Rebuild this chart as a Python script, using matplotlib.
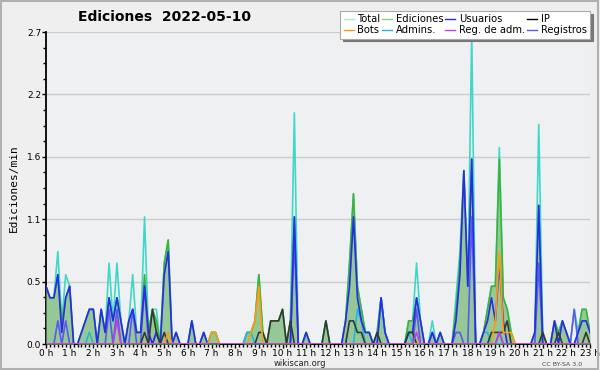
import matplotlib
matplotlib.use("Agg")
import matplotlib.pyplot as plt
from matplotlib.lines import Line2D
from matplotlib.patches import Rectangle
import numpy as np

# 10-minute bins from 00:00 to 23:00 (values are edits per minute)
total = [0.5, 0.4, 0.4, 0.8, 0.2, 0.6,
         0.5, 0, 0, 0.1, 0.2, 0.3,
         0.3, 0, 0.3, 0.1, 0.7, 0.2,
         0.7, 0.2, 0, 0.2, 0.6, 0.1,
         0.1, 1.1, 0.1, 0.3, 0.3, 0,
         0.7, 0.9, 0, 0.1, 0, 0,
         0, 0.2, 0, 0, 0.1, 0,
         0.1, 0.1, 0, 0, 0, 0,
         0, 0, 0, 0.1, 0.1, 0.2,
         0.6, 0.1, 0, 0.2, 0.2, 0.2,
         0.3, 0, 0.2, 2.0, 0, 0,
         0.1, 0, 0, 0, 0, 0.2,
         0, 0, 0, 0, 0.2, 0.7,
         1.3, 0.5, 0.3, 0.1, 0.1, 0,
         0.1, 0.4, 0.1, 0, 0, 0,
         0, 0, 0.2, 0.2, 0.7, 0.2,
         0, 0, 0.2, 0, 0.1, 0,
         0, 0, 0.4, 0.8, 1.5, 0.5,
         2.7, 0, 0, 0.1, 0.3, 0.5,
         0.5, 1.7, 0.4, 0.3, 0.1, 0,
         0, 0, 0, 0, 0.1, 1.9,
         0.1, 0, 0, 0.2, 0.1, 0.2,
         0.1, 0, 0.3, 0.1, 0.3, 0.3,
         0.1]

ediciones = [0.5, 0.4, 0.4, 0.6, 0.2, 0.4,
             0.5, 0, 0, 0.1, 0.2, 0.3,
             0.3, 0, 0.3, 0.1, 0.4, 0.2,
             0.4, 0.2, 0, 0.2, 0.3, 0.1,
             0.1, 0.6, 0.1, 0.3, 0.2, 0,
             0.7, 0.9, 0, 0.1, 0, 0,
             0, 0.2, 0, 0, 0.1, 0,
             0.1, 0.1, 0, 0, 0, 0,
             0, 0, 0, 0.1, 0.1, 0.2,
             0.6, 0.1, 0, 0.2, 0.2, 0.2,
             0.3, 0, 0.2, 1.1, 0, 0,
             0.1, 0, 0, 0, 0, 0.2,
             0, 0, 0, 0, 0.2, 0.7,
             1.3, 0.5, 0.3, 0.1, 0.1, 0,
             0.1, 0.4, 0.1, 0, 0, 0,
             0, 0, 0.2, 0.2, 0.4, 0.2,
             0, 0, 0.1, 0, 0.1, 0,
             0, 0, 0.3, 0.7, 1.5, 0.5,
             1.6, 0, 0, 0.1, 0.3, 0.5,
             0.5, 1.6, 0.4, 0.3, 0.1, 0,
             0, 0, 0, 0, 0.1, 1.2,
             0.1, 0, 0, 0.2, 0.1, 0.2,
             0.1, 0, 0, 0.1, 0.3, 0.3,
             0.1]

usuarios = [0.5, 0.4, 0.4, 0.6, 0.1, 0.4,
            0.5, 0, 0, 0.1, 0.2, 0.3,
            0.3, 0, 0.3, 0.1, 0.4, 0.2,
            0.4, 0.2, 0, 0.2, 0.3, 0.1,
            0.1, 0.5, 0.1, 0, 0.1, 0,
            0.6, 0.8, 0, 0.1, 0, 0,
            0, 0.2, 0, 0, 0.1, 0,
            0, 0, 0, 0, 0, 0,
            0, 0, 0, 0, 0, 0,
            0, 0, 0, 0, 0, 0,
            0, 0, 0, 1.1, 0, 0,
            0.1, 0, 0, 0, 0, 0,
            0, 0, 0, 0, 0.2, 0.5,
            1.1, 0.4, 0.2, 0.1, 0.1, 0,
            0, 0.4, 0.1, 0, 0, 0,
            0, 0, 0.1, 0.1, 0.4, 0.2,
            0, 0, 0.1, 0, 0.1, 0,
            0, 0, 0.2, 0.6, 1.5, 0.5,
            1.6, 0, 0, 0.1, 0.2, 0.4,
            0.2, 0.7, 0.2, 0, 0, 0,
            0, 0, 0, 0, 0.1, 1.2,
            0, 0, 0, 0.2, 0, 0.2,
            0.1, 0, 0, 0.1, 0.2, 0.2,
            0.1]

ip = [0, 0, 0, 0, 0, 0,
      0, 0, 0, 0, 0, 0,
      0, 0, 0, 0, 0, 0,
      0, 0, 0, 0, 0, 0,
      0, 0.1, 0, 0.3, 0.1, 0,
      0.1, 0, 0, 0, 0, 0,
      0, 0, 0, 0, 0, 0,
      0, 0, 0, 0, 0, 0,
      0, 0, 0, 0, 0, 0,
      0.1, 0.1, 0, 0.2, 0.2, 0.2,
      0.3, 0, 0.2, 0, 0, 0,
      0, 0, 0, 0, 0, 0.2,
      0, 0, 0, 0, 0, 0.2,
      0.2, 0.1, 0.1, 0, 0, 0,
      0.1, 0, 0, 0, 0, 0,
      0, 0, 0.1, 0.1, 0, 0,
      0, 0, 0, 0, 0, 0,
      0, 0, 0, 0, 0, 0,
      0, 0, 0, 0, 0, 0.1,
      0.1, 0.1, 0.1, 0.2, 0, 0,
      0, 0, 0, 0, 0, 0,
      0.1, 0, 0, 0, 0.1, 0,
      0, 0, 0, 0, 0, 0.1,
      0]

bots = [0, 0, 0, 0, 0, 0,
        0, 0, 0, 0, 0, 0,
        0, 0, 0, 0, 0, 0,
        0, 0, 0, 0, 0, 0,
        0, 0, 0, 0, 0, 0,
        0, 0.1, 0, 0, 0, 0,
        0, 0, 0, 0, 0, 0,
        0.1, 0.1, 0, 0, 0, 0,
        0, 0, 0, 0, 0.1, 0.2,
        0.5, 0, 0, 0, 0, 0,
        0, 0, 0, 0, 0, 0,
        0, 0, 0, 0, 0, 0,
        0, 0, 0, 0, 0, 0,
        0, 0, 0, 0, 0, 0,
        0, 0, 0, 0, 0, 0,
        0, 0, 0, 0, 0, 0,
        0, 0, 0, 0, 0, 0,
        0, 0, 0, 0, 0, 0,
        0, 0, 0, 0, 0, 0,
        0.2, 0.8, 0.1, 0.1, 0.1, 0,
        0, 0, 0, 0, 0, 0,
        0, 0, 0, 0, 0, 0,
        0, 0, 0, 0, 0, 0,
        0]

admins = [0, 0, 0, 0, 0, 0,
          0, 0, 0, 0, 0, 0.1,
          0, 0, 0, 0, 0, 0,
          0, 0, 0, 0, 0, 0,
          0, 0, 0, 0, 0, 0,
          0, 0, 0, 0, 0, 0,
          0, 0, 0, 0, 0, 0,
          0, 0, 0, 0, 0, 0,
          0, 0, 0, 0.1, 0.1, 0,
          0, 0, 0, 0, 0, 0,
          0, 0, 0, 0, 0, 0,
          0, 0, 0, 0, 0, 0,
          0, 0, 0, 0, 0, 0,
          0, 0.3, 0.2, 0, 0, 0,
          0, 0.4, 0.1, 0, 0, 0,
          0, 0, 0.1, 0, 0, 0,
          0, 0, 0, 0, 0, 0,
          0, 0, 0, 0, 0, 0,
          0, 0, 0, 0.1, 0.1, 0,
          0, 0, 0, 0, 0, 0,
          0, 0, 0, 0, 0, 0,
          0, 0, 0, 0, 0, 0,
          0, 0, 0, 0, 0, 0,
          0]

reg_adm = [0, 0, 0, 0, 0, 0,
           0, 0, 0, 0, 0, 0,
           0, 0, 0, 0, 0, 0,
           0.2, 0, 0, 0, 0, 0,
           0, 0, 0, 0, 0, 0,
           0, 0, 0, 0, 0, 0,
           0, 0, 0, 0, 0, 0,
           0, 0, 0, 0, 0, 0,
           0, 0, 0, 0, 0, 0,
           0, 0, 0, 0, 0, 0,
           0, 0, 0, 0, 0, 0,
           0, 0, 0, 0, 0, 0,
           0, 0, 0, 0, 0, 0,
           0, 0, 0, 0, 0, 0,
           0, 0, 0, 0, 0, 0,
           0, 0, 0, 0, 0.1, 0,
           0, 0, 0, 0, 0, 0,
           0, 0, 0, 0, 0, 0,
           0, 0, 0, 0, 0, 0,
           0, 0.1, 0, 0, 0, 0,
           0, 0, 0, 0, 0, 0,
           0, 0, 0, 0, 0, 0,
           0, 0, 0, 0, 0, 0,
           0]

registros = [0, 0, 0, 0.2, 0, 0.2,
             0, 0, 0, 0, 0, 0,
             0, 0, 0, 0, 0.3, 0,
             0.3, 0, 0, 0, 0.3, 0,
             0, 0.5, 0, 0, 0.1, 0,
             0, 0, 0, 0, 0, 0,
             0, 0, 0, 0, 0, 0,
             0, 0, 0, 0, 0, 0,
             0, 0, 0, 0, 0, 0,
             0, 0, 0, 0, 0, 0,
             0, 0, 0, 0.9, 0, 0,
             0, 0, 0, 0, 0, 0,
             0, 0, 0, 0, 0, 0,
             0, 0, 0, 0, 0, 0,
             0, 0, 0, 0, 0, 0,
             0, 0, 0, 0, 0.3, 0,
             0, 0, 0.1, 0, 0, 0,
             0, 0, 0.1, 0.1, 0, 0,
             1.1, 0, 0, 0, 0, 0,
             0, 0.1, 0, 0, 0, 0,
             0, 0, 0, 0, 0, 0.7,
             0, 0, 0, 0, 0, 0,
             0, 0, 0.3, 0, 0, 0,
             0]

hour_labels = [f"{h} h" for h in range(24)]

x = np.arange(len(total)) / 6.0

BG = "#efefef"
fig = plt.figure(figsize=(6.0, 3.7), dpi=100, facecolor=BG)
ax = fig.add_axes([46/600, 26/370, 544/600, 312/370])
ax.set_facecolor("#eef0f2")

c_total = "#3fd8c8"
c_edit = "#3cb43c"
c_fill = "#96c896"
c_user = "#2a2aee"
c_ip = "#333a33"
c_bots = "#ff9a10"
c_admin = "#20b8e0"
c_regadm = "#c040e0"
c_reg = "#5a5af0"

lw = 1.2
ax.plot(x, total, color=c_total, lw=lw, zorder=2)
ax.fill_between(x, 0, ediciones, color=c_fill, lw=0, zorder=3)
ax.plot(x, ediciones, color=c_edit, lw=lw, zorder=4)
ax.plot(x, registros, color=c_reg, lw=lw, zorder=5)
ax.plot(x, admins, color=c_admin, lw=lw, zorder=5)
ax.plot(x, usuarios, color=c_user, lw=lw, zorder=6)
ax.plot(x, ip, color=c_ip, lw=lw, zorder=6)
ax.plot(x, bots, color=c_bots, lw=lw, zorder=7)
ax.plot(x, reg_adm, color=c_regadm, lw=lw, zorder=7)

ymax = 2.7
ax.set_xlim(0, 23)
ax.set_ylim(0, ymax)
yt = np.linspace(0, ymax, 6)
ax.set_yticks(yt)
ax.set_yticklabels([f"{v:.1f}" for v in yt])
ax.set_yticks(np.linspace(0, ymax, 21), minor=True)
ax.set_xticks(range(24))
ax.set_xticklabels(hour_labels)
ax.set_xticks(np.arange(0, 23.01, 1/6), minor=True)
ax.grid(axis="y", which="major", color="#cccccc", lw=1, zorder=1)
ax.tick_params(axis="both", which="major", direction="out", length=3, width=1,
               labelsize=6.5, pad=0.5, colors="#000000")
ax.tick_params(axis="both", which="minor", direction="out", length=2.5, width=1)
for s in ["top", "right"]:
    ax.spines[s].set_visible(False)
for s in ["left", "bottom"]:
    ax.spines[s].set_linewidth(1.3)

ax.set_ylabel("Ediciones/min", family="DejaVu Sans Mono", fontsize=8, labelpad=6)

fig.text(165/600, 1 - 17/370, "Ediciones  2022-05-10", ha="center", va="center",
         fontsize=10, fontweight="bold")
fig.text(300/600, 1 - 363/370, "wikiscan.org", ha="center", va="center", fontsize=6,
         color="#222222")
fig.text(562/600, 1 - 364/370, "CC BY-SA 3.0", ha="center", va="center", fontsize=4.5,
         color="#444444")

handles = [Line2D([], [], color=c_total, lw=1, alpha=0.5), Line2D([], [], color=c_bots, lw=1),
           Line2D([], [], color=c_edit, lw=1, alpha=0.6), Line2D([], [], color=c_admin, lw=1),
           Line2D([], [], color=c_user, lw=1), Line2D([], [], color=c_regadm, lw=1),
           Line2D([], [], color="#000000", lw=1), Line2D([], [], color=c_reg, lw=1)]
labels = ["Total", "Bots", "Ediciones", "Admins.", "Usuarios", "Reg. de adm.", "IP", "Registros"]
leg = fig.legend(handles, labels, ncol=4, loc="upper right",
                 bbox_to_anchor=(590/600, 1 - 11/370), fontsize=7.2, frameon=True,
                 fancybox=False, shadow={"color": "#777777", "alpha": 1},
                 edgecolor="#aaaaaa", framealpha=1, handlelength=1.0, handletextpad=0.35,
                 columnspacing=0.2, labelspacing=0.05, borderpad=0.35, borderaxespad=0)
leg.get_frame().set_linewidth(0.8)

fig.patches.append(Rectangle((0.002, 0.003), 0.994, 0.994, transform=fig.transFigure,
                             fill=False, edgecolor="#b0b0b0", lw=1.5))

fig.savefig("out.png", dpi=100, facecolor=BG)
